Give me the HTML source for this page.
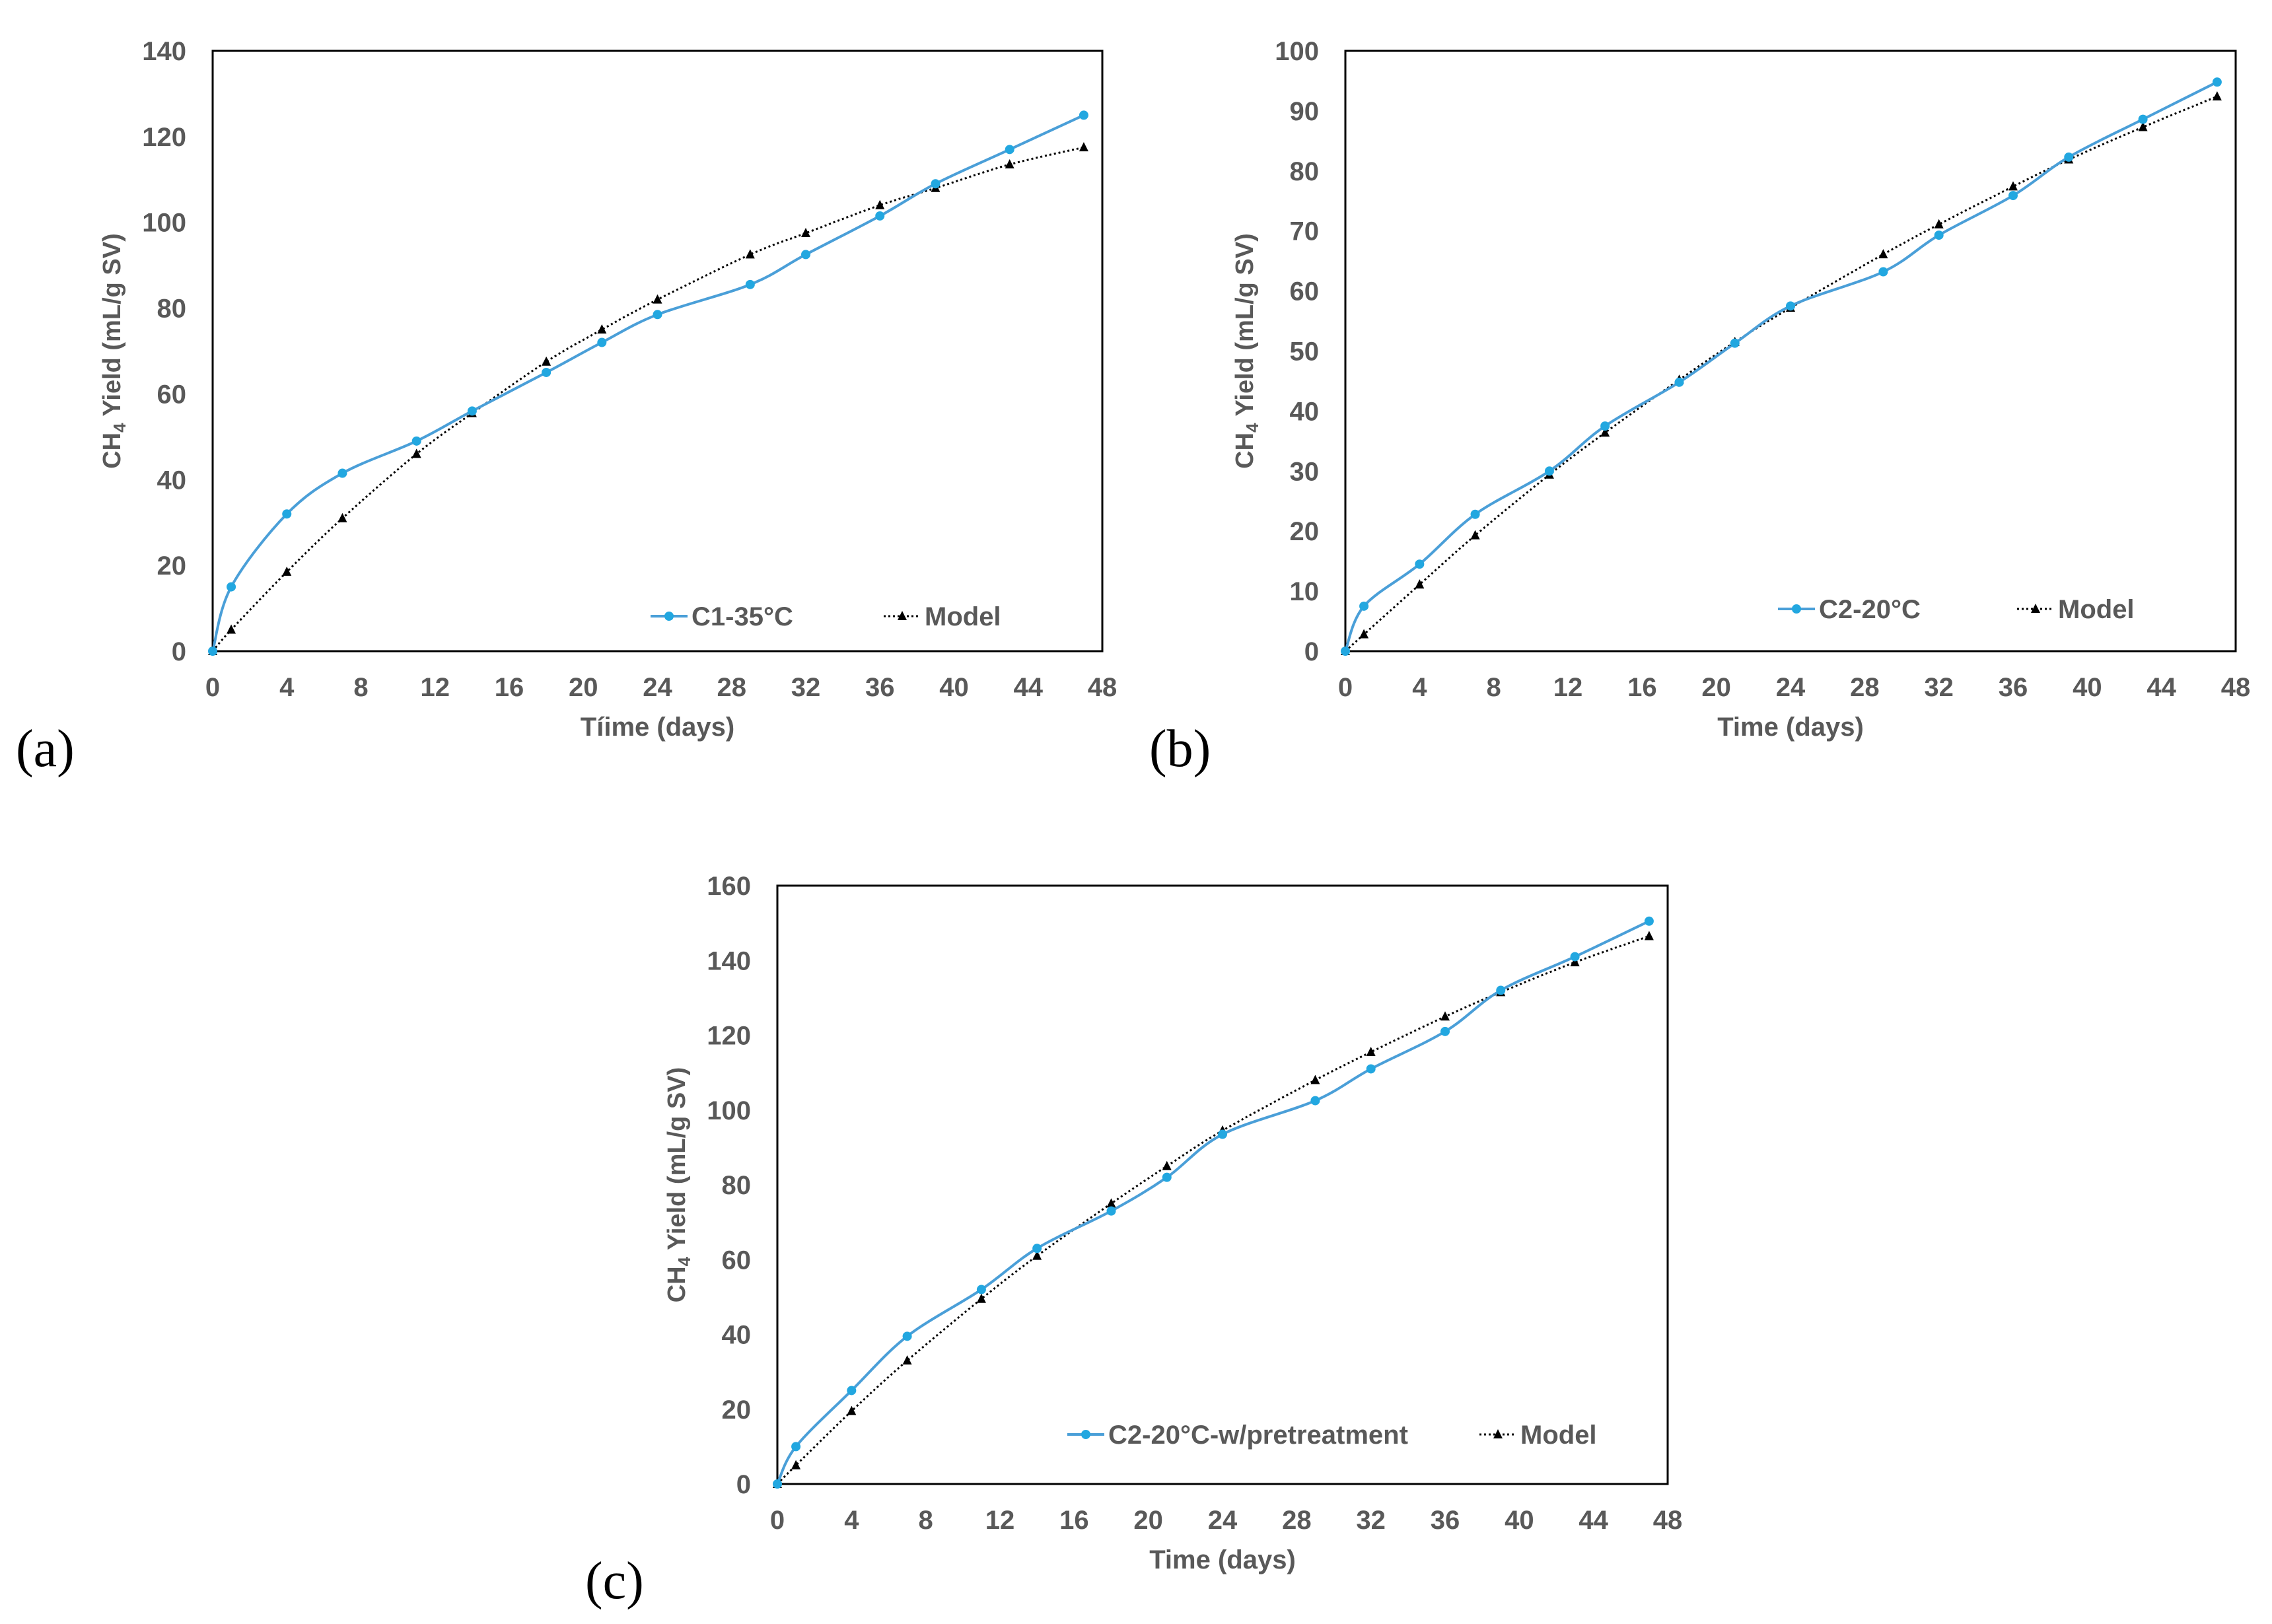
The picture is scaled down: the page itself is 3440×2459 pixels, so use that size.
<!DOCTYPE html>
<html><head><meta charset="utf-8">
<style>
html,body{margin:0;padding:0;background:#fff;}
svg{display:block;}
text{font-family:"Liberation Sans Narrow","Liberation Sans",sans-serif;font-weight:bold;fill:#595959;}
.pl{font-family:"Liberation Serif",serif;font-weight:normal;fill:#000;font-size:80px;}
</style></head>
<body>
<svg id="fig" width="3440" height="2459" viewBox="0 0 3440 2459" xmlns="http://www.w3.org/2000/svg">
<text class="pl" x="24" y="1160">(a)</text>
<text class="pl" x="1740" y="1160">(b)</text>
<text class="pl" x="886" y="2420">(c)</text>
</svg>
<script>
const days = [0,1,4,7,11,14,18,21,24,29,32,36,39,43,47];
const xTicks = [0,4,8,12,16,20,24,28,32,36,40,44,48];
const aMeasured = [0,15,32,41.5,49,56,65,72,78.5,85.5,92.5,101.5,109,117,125];
const aModel = [0,5,18.5,31,46,55.5,67.5,75,82,92.5,97.5,104,108,113.5,117.5];
const aYTicks = [0,20,40,60,80,100,120,140];
const bMeasured = [0,7.5,14.5,22.8,30,37.5,44.8,51.3,57.5,63.2,69.3,75.9,82.3,88.6,94.8];
const bModel = [0,2.8,11.1,19.3,29.4,36.4,45.2,51.5,57.2,66.1,71.1,77.4,81.9,87.3,92.4];
const bYTicks = [0,10,20,30,40,50,60,70,80,90,100];
const cMeasured = [0,10,25,39.5,52,63,73,82,93.5,102.5,111,121,132,141,150.5];
const cModel = [0,5,19.5,33,49.5,61,75,85,94.5,108,115.5,125,131.5,139.5,146.5];
const cYTicks = [0,20,40,60,80,100,120,140,160];

const NS="http://www.w3.org/2000/svg";
const svg=document.getElementById('fig');
function mk(tag,attrs,parent){const e=document.createElementNS(NS,tag);for(const k in attrs)e.setAttribute(k,attrs[k]);(parent||svg).appendChild(e);return e;}
function spline(pts){let d='M'+pts[0][0]+','+pts[0][1];const t=1/6;
 for(let i=0;i<pts.length-1;i++){const p0=pts[Math.max(0,i-1)],p1=pts[i],p2=pts[i+1],p3=pts[Math.min(pts.length-1,i+2)];
 const c1=[p1[0]+(p2[0]-p0[0])*t,p1[1]+(p2[1]-p0[1])*t],c2=[p2[0]-(p3[0]-p1[0])*t,p2[1]-(p3[1]-p1[1])*t];
 d+=' C'+c1[0]+','+c1[1]+' '+c2[0]+','+c2[1]+' '+p2[0]+','+p2[1];}return d;}

function chart(id,L,R,T,B,ymax,yTicks,meas,model,xTitle,legName,legX,modX,legY){
 const g=mk('g',{});
 
 
 const xs=v=>L+(R-L)*v/48, ys=v=>B-(B-T)*v/ymax;
 const frame=mk('rect',{x:L,y:T,width:R-L,height:B-T,fill:'none',stroke:'#000','stroke-width':3},g);
 
 
 yTicks.forEach(v=>{const t=mk('text',{x:L-40,y:ys(v)+14,'text-anchor':'end','font-size':40},g);t.textContent=v;
  
  });
 xTicks.forEach(v=>{const t=mk('text',{x:xs(v),y:B+68,'text-anchor':'middle','font-size':40},g);t.textContent=v;
  
  });
 const xt=mk('text',{x:(L+R)/2,y:B+128,'text-anchor':'middle','font-size':40},g);xt.textContent=xTitle;
 
 
 const cy=(T+B)/2, cx=L-140;
 const yt=mk('text',{x:cx,y:cy,'text-anchor':'middle','font-size':38,transform:'rotate(-90 '+cx+' '+cy+')',style:'font-family:\"Liberation Sans\",sans-serif'},g);
 yt.innerHTML='CH<tspan font-size="26" dy="8">4</tspan><tspan dy="-8"> Yield (mL/g SV)</tspan>';
 
 
 const mp=days.map((d,i)=>[xs(d),ys(model[i])]);
 const ml=mk('path',{d:spline(mp),fill:'none',stroke:'#000','stroke-width':3,'stroke-dasharray':'3 4'},g);
 
 
 const bp=days.map((d,i)=>[xs(d),ys(meas[i])]);
 const bl=mk('path',{d:spline(bp),fill:'none',stroke:'#4a9fd8','stroke-width':4},g);
 
 
 mp.forEach(p=>{const m=mk('polygon',{points:(p[0])+','+(p[1]-8)+' '+(p[0]-7)+','+(p[1]+6)+' '+(p[0]+7)+','+(p[1]+6),fill:'#000'},g);
  
  });
 bp.forEach(p=>{const m=mk('circle',{cx:p[0],cy:p[1],r:7,fill:'#22a7e0'},g);
  
  });
 // legend
 const le=mk('g',{},g);
 
 
 mk('line',{x1:legX,y1:legY,x2:legX+56,y2:legY,stroke:'#4a9fd8','stroke-width':4},le);
 mk('circle',{cx:legX+28,cy:legY,r:7,fill:'#22a7e0'},le);
 const t1=mk('text',{x:legX+62,y:legY+14,'font-size':40},le);t1.textContent=legName;
 
 
 mk('line',{x1:modX,y1:legY,x2:modX+56,y2:legY,stroke:'#000','stroke-width':3,'stroke-dasharray':'3 4'},le);
 mk('polygon',{points:(modX+28)+','+(legY-8)+' '+(modX+21)+','+(legY+6)+' '+(modX+35)+','+(legY+6),fill:'#000'},le);
 const t2=mk('text',{x:modX+62,y:legY+14,'font-size':40},le);t2.textContent='Model';
 
 
}
chart('a',322,1669,77,986,140,aYTicks,aMeasured,aModel,'Tíime (days)','C1-35°C',985,1338,933);
chart('b',2037,3385,77,986,100,bYTicks,bMeasured,bModel,'Time (days)','C2-20°C',2692,3054,922);
chart('c',1177,2525,1341,2247,160,cYTicks,cMeasured,cModel,'Time (days)','C2-20°C-w/pretreatment',1616,2240,2172);
</script>
</body></html>
